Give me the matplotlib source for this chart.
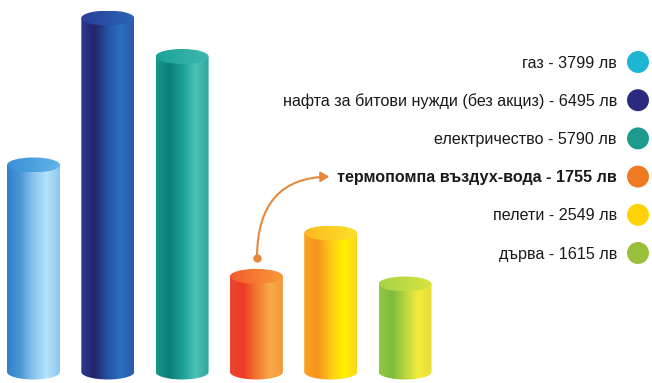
import matplotlib
matplotlib.use("Agg")
import matplotlib.pyplot as plt
import numpy as np
from matplotlib.colors import LinearSegmentedColormap
from matplotlib.patches import Ellipse, Polygon, FancyArrowPatch

plt.rcParams['font.family'] = ['Liberation Sans', 'DejaVu Sans']

# heating costs per year, lv
labels = ["газ", "нафта за битови нужди (без акциз)", "електричество",
          "термопомпа въздух-вода", "пелети", "дърва"]
values = [3799, 6495, 5790, 1755, 2549, 1615]
highlight = 3

# cylinder gradients (left -> right) and top colours
body_colors = [
    ["#2f80c8", "#4a98d8", "#8ac4ec", "#b4e2fa", "#8cc8ee"],
    ["#2c3a92", "#22256a", "#2353a0", "#2b6fc0", "#2a5aa8"],
    ["#16968b", "#0c7f76", "#1c9f94", "#4cc2b6", "#2ea89d"],
    ["#e8452f", "#ee3b2a", "#f1782f", "#f9a84a", "#f39a3d"],
    ["#f8a51f", "#f7931e", "#fcc816", "#fff000", "#f8d81a"],
    ["#93c840", "#7dbb3f", "#bcd63e", "#f5ec3b", "#e6dd37"],
]
top_colors = [
    ["#3a8fd6", "#62b4e8"],
    ["#2c3e98", "#2a66b6"],
    ["#1aa397", "#40b8ad"],
    ["#f25b2f", "#f99a37"],
    ["#fbb821", "#fde12b"],
    ["#a6d246", "#d8e43f"],
]
dot_colors = ["#1fb6d3", "#2b2a7f", "#1f9a8e", "#f07a22", "#fdd308", "#98c03c"]

fig = plt.figure(figsize=(6.52, 3.83), dpi=100)
ax = fig.add_axes([0, 0, 1, 1])
ax.set_axis_off()

w = 0.713       # cylinder width (x units)
eh = 275        # ellipse height (value units)
grad = np.linspace(0, 1, 256).reshape(1, -1)

for i, v in enumerate(values):
    x0, x1 = i - w / 2, i + w / 2
    cmap = LinearSegmentedColormap.from_list("b%d" % i, body_colors[i])
    t = np.linspace(np.pi, 2 * np.pi, 40)
    arc = np.column_stack([i + w / 2 * np.cos(t), eh / 2 * np.sin(t)])
    pts = np.vstack([arc, [[x1, v], [x0, v]]])
    body = Polygon(pts, closed=True, facecolor="none", edgecolor="none")
    ax.add_patch(body)
    im = ax.imshow(grad, cmap=cmap, extent=[x0, x1, -eh, v], aspect="auto",
                   origin="lower", zorder=2)
    im.set_clip_path(body)

    tcmap = LinearSegmentedColormap.from_list("t%d" % i, top_colors[i])
    top = Ellipse((i, v), w, eh, facecolor="none", edgecolor="none")
    ax.add_patch(top)
    im2 = ax.imshow(grad, cmap=tcmap, extent=[x0, x1, v - eh / 2, v + eh / 2],
                    aspect="auto", origin="lower", zorder=3)
    im2.set_clip_path(top)

ax.set_xlim(-0.451, 8.324)
ax.set_ylim(-202, 6826)

# legend on the right, in pixel coordinates
lax = fig.add_axes([0, 0, 1, 1], facecolor="none")
lax.set_axis_off()
lax.set_xlim(0, 652)
lax.set_ylim(383, 0)

for i, (lab, v) in enumerate(zip(labels, values)):
    y = 62 + 38.2 * i
    lax.scatter([638], [y], s=250, color=dot_colors[i], edgecolors="none")
    lax.text(617, y + 1, "%s - %d лв" % (lab, v), ha="right", va="center",
             fontsize=11.6, color="#1a1a1a",
             fontweight="bold" if i == highlight else "normal")

# arrow from heat pump cylinder to its label
y_hl = 62 + 38.2 * highlight
lax.plot([257], [258], "o", color="#e8873a", markersize=5)
arr = FancyArrowPatch((257, 258), (332, y_hl),
                      connectionstyle="angle3,angleA=90,angleB=0",
                      arrowstyle="-|>,head_length=5,head_width=3",
                      color="#e8873a", lw=1.5, mutation_scale=1)
lax.add_patch(arr)

fig.savefig("out.png", dpi=100)
